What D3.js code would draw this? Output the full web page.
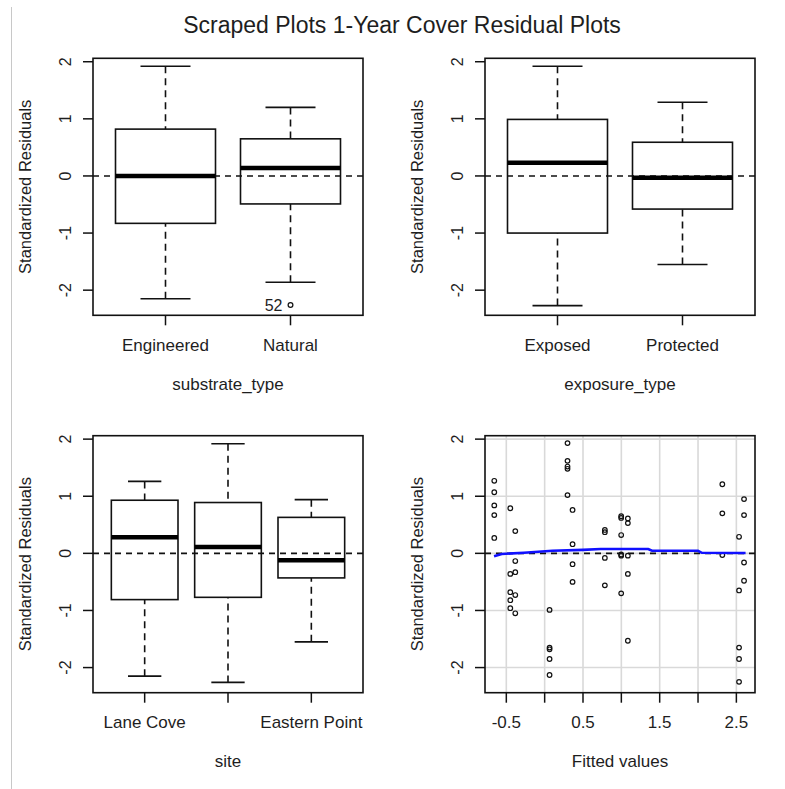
<!DOCTYPE html>
<html>
<head>
<meta charset="utf-8">
<script src="https://cdn.jsdelivr.net/npm/d3@7"></script>
<style>
  body { margin: 0; background: #fff; }
  svg text { font-family: "Liberation Sans", Arial, sans-serif; fill: #1e1e1e; }
</style>
</head>
<body>
<div id="chart"></div>
<script>
// ---- data ----
const chartTitle = "Scraped Plots 1-Year Cover Residual Plots";
const yTitle = "Standardized Residuals";
const yTicks = [-2, -1, 0, 1, 2];

// boxplot stats: [lower whisker, Q1, median, Q3, upper whisker]
const substrateCats = ["Engineered", "Natural"];
const substrateStats = [[-2.15, -0.83, 0.0, 0.82, 1.92], [-1.86, -0.49, 0.14, 0.65, 1.20]];
const substrateOutliers = [{ cat: 1, value: -2.26, label: "52" }];

const exposureCats = ["Exposed", "Protected"];
const exposureStats = [[-2.27, -1.0, 0.23, 0.99, 1.92], [-1.55, -0.58, -0.03, 0.59, 1.29]];

const siteCats = ["Lane Cove", "", "Eastern Point"]; // middle label dropped in the original
const siteStats = [[-2.15, -0.81, 0.28, 0.93, 1.26], [-2.26, -0.77, 0.11, 0.89, 1.92], [-1.55, -0.43, -0.12, 0.63, 0.94]];

// residuals vs fitted
const fittedX = [
  -0.657, -0.657, -0.657, -0.657, -0.657,
  -0.448, -0.448, -0.448, -0.448, -0.448,
  -0.383, -0.383, -0.383, -0.383, -0.383,
  0.064, 0.064, 0.064, 0.064, 0.064,
  0.298, 0.298, 0.298, 0.298, 0.298,
  0.364, 0.364, 0.364, 0.364,
  0.785, 0.785, 0.785, 0.785,
  0.998, 0.998, 0.998, 0.998, 0.998, 0.998,
  1.085, 1.085, 1.085, 1.085, 1.085,
  2.317, 2.317, 2.317,
  2.535, 2.535, 2.535, 2.535, 2.535,
  2.60, 2.60, 2.60, 2.60
];
const residY = [
  1.27, 1.07, 0.84, 0.67, 0.27,
  0.79, -0.36, -0.68, -0.82, -0.96,
  0.39, -0.135, -0.33, -0.73, -1.05,
  -0.99, -1.65, -1.68, -1.85, -2.13,
  1.93, 1.62, 1.52, 1.48, 1.02,
  0.76, 0.16, -0.19, -0.50,
  0.41, 0.37, -0.08, -0.56,
  0.65, 0.62, 0.32, -0.02, -0.04, -0.70,
  0.61, 0.53, -0.04, -0.36, -1.53,
  1.21, 0.70, -0.03,
  0.29, -0.65, -1.65, -1.85, -2.25,
  0.95, 0.67, -0.16, -0.48
];
const smoothX = [-0.66, -0.56, -0.27, 0.10, 0.50, 0.73, 1.35, 1.40, 2.00, 2.05, 2.62];
const smoothY = [-0.05, -0.01, 0.01, 0.045, 0.06, 0.075, 0.075, 0.045, 0.045, 0.01, 0.005];
const fittedTicks = [-0.5, 0, 0.5, 1, 1.5, 2, 2.5];
const fittedTickLabels = ["-0.5", "", "0.5", "", "1.5", "", "2.5"];

// ---- layout ----
const W = 785, H = 789;
const panels = [
  { left: 93, top: 58.3, xTitle: "substrate_type" },
  { left: 485, top: 58.3, xTitle: "exposure_type" },
  { left: 93, top: 435.7, xTitle: "site" },
  { left: 485, top: 435.7, xTitle: "Fitted values" }
];
const pw = 270, ph = 257;

const svg = d3.select("#chart").append("svg")
  .attr("width", W).attr("height", H);

svg.append("line")
  .attr("x1", 11.5).attr("x2", 11.5).attr("y1", 7).attr("y2", H)
  .attr("stroke", "#c8c8c8").attr("stroke-width", 1);

svg.append("text")
  .attr("x", 402).attr("y", 33)
  .attr("text-anchor", "middle")
  .style("font-size", "23px")
  .text(chartTitle);

function frame(p) {
  const g = svg.append("g");
  const y = d3.scaleLinear().domain([-2.44, 2.06]).range([p.top + ph, p.top]);

  // y ticks
  g.selectAll(".yt").data(yTicks).enter().append("line")
    .attr("x1", p.left - 10).attr("x2", p.left)
    .attr("y1", d => y(d)).attr("y2", d => y(d))
    .attr("stroke", "#111").attr("stroke-width", 1.5);
  g.selectAll(".yl").data(yTicks).enter().append("text")
    .attr("transform", d => `translate(${p.left - 28},${y(d)}) rotate(-90)`)
    .attr("text-anchor", "middle")
    .attr("dominant-baseline", "central")
    .style("font-size", "16px")
    .text(d => d);
  g.append("text")
    .attr("transform", `translate(${p.left - 68},${p.top + ph / 2}) rotate(-90)`)
    .attr("text-anchor", "middle")
    .attr("dominant-baseline", "central")
    .style("font-size", "16.5px")
    .text(yTitle);
  g.append("text")
    .attr("x", p.left + pw / 2).attr("y", p.top + ph + 69)
    .attr("text-anchor", "middle")
    .attr("dominant-baseline", "central")
    .style("font-size", "17px")
    .text(p.xTitle);
  return { g, y };
}

function border(g, p) {
  g.append("rect")
    .attr("x", p.left).attr("y", p.top).attr("width", pw).attr("height", ph)
    .attr("fill", "none").attr("stroke", "#111").attr("stroke-width", 1.6);
}

function boxPanel(p, cats, stats, outliers) {
  const { g, y } = frame(p);
  const n = cats.length;
  const pad = 0.04 * n;
  const x = d3.scaleLinear().domain([0.5 - pad, n + 0.5 + pad]).range([p.left, p.left + pw]);
  const bw = x(1.4) - x(1);
  const idx = d3.range(n);

  // reference line at zero
  g.append("line")
    .attr("x1", p.left).attr("x2", p.left + pw)
    .attr("y1", y(0)).attr("y2", y(0))
    .attr("stroke", "#111").attr("stroke-width", 1.6)
    .attr("stroke-dasharray", "6,5");

  const bx = g.selectAll(".box").data(idx).enter().append("g");
  // whiskers
  bx.append("line")
    .attr("x1", i => x(i + 1)).attr("x2", i => x(i + 1))
    .attr("y1", i => y(stats[i][0])).attr("y2", i => y(stats[i][1]))
    .attr("stroke", "#111").attr("stroke-width", 1.6).attr("stroke-dasharray", "7,5");
  bx.append("line")
    .attr("x1", i => x(i + 1)).attr("x2", i => x(i + 1))
    .attr("y1", i => y(stats[i][4])).attr("y2", i => y(stats[i][3]))
    .attr("stroke", "#111").attr("stroke-width", 1.6).attr("stroke-dasharray", "7,5");
  // caps
  [0, 4].forEach(k => {
    bx.append("line")
      .attr("x1", i => x(i + 1) - bw / 2).attr("x2", i => x(i + 1) + bw / 2)
      .attr("y1", i => y(stats[i][k])).attr("y2", i => y(stats[i][k]))
      .attr("stroke", "#111").attr("stroke-width", 1.6);
  });
  // box
  bx.append("rect")
    .attr("x", i => x(i + 1) - bw).attr("width", bw * 2)
    .attr("y", i => y(stats[i][3]))
    .attr("height", i => y(stats[i][1]) - y(stats[i][3]))
    .attr("fill", "none").attr("stroke", "#111").attr("stroke-width", 1.6);
  // median
  bx.append("line")
    .attr("x1", i => x(i + 1) - bw).attr("x2", i => x(i + 1) + bw)
    .attr("y1", i => y(stats[i][2])).attr("y2", i => y(stats[i][2]))
    .attr("stroke", "#000").attr("stroke-width", 4.5);

  (outliers || []).forEach(o => {
    g.append("circle")
      .attr("cx", x(o.cat + 1)).attr("cy", y(o.value)).attr("r", 2.4)
      .attr("fill", "none").attr("stroke", "#111").attr("stroke-width", 1.2);
    g.append("text")
      .attr("x", x(o.cat + 1) - 8).attr("y", y(o.value))
      .attr("text-anchor", "end").attr("dominant-baseline", "central")
      .style("font-size", "16px")
      .text(o.label);
  });

  // x ticks
  g.selectAll(".xt").data(idx).enter().append("line")
    .attr("x1", i => x(i + 1)).attr("x2", i => x(i + 1))
    .attr("y1", p.top + ph).attr("y2", p.top + ph + 10)
    .attr("stroke", "#111").attr("stroke-width", 1.5);
  g.selectAll(".xl").data(idx).enter().append("text")
    .attr("x", i => x(i + 1)).attr("y", p.top + ph + 30)
    .attr("text-anchor", "middle").attr("dominant-baseline", "central")
    .style("font-size", "17px")
    .text(i => cats[i]);

  border(g, p);
}

function scatterPanel(p) {
  const { g, y } = frame(p);
  const x = d3.scaleLinear().domain([-0.778, 2.743]).range([p.left, p.left + pw]);

  // grid
  g.selectAll(".gx").data(fittedTicks).enter().append("line")
    .attr("x1", d => x(d)).attr("x2", d => x(d))
    .attr("y1", p.top).attr("y2", p.top + ph)
    .attr("stroke", "#d9d9d9").attr("stroke-width", 1.6);
  g.selectAll(".gy").data(yTicks).enter().append("line")
    .attr("x1", p.left).attr("x2", p.left + pw)
    .attr("y1", d => y(d)).attr("y2", d => y(d))
    .attr("stroke", "#d9d9d9").attr("stroke-width", 1.6);

  g.append("line")
    .attr("x1", p.left).attr("x2", p.left + pw)
    .attr("y1", y(0)).attr("y2", y(0))
    .attr("stroke", "#111").attr("stroke-width", 1.6)
    .attr("stroke-dasharray", "6,5");

  g.selectAll(".pt").data(d3.range(fittedX.length)).enter().append("circle")
    .attr("cx", i => x(fittedX[i])).attr("cy", i => y(residY[i])).attr("r", 2.3)
    .attr("fill", "none").attr("stroke", "#111").attr("stroke-width", 1.2);

  const line = d3.line().x(i => x(smoothX[i])).y(i => y(smoothY[i]));
  g.append("path")
    .attr("d", line(d3.range(smoothX.length)))
    .attr("fill", "none").attr("stroke", "#1010ff").attr("stroke-width", 2.6);

  g.selectAll(".xt").data(fittedTicks).enter().append("line")
    .attr("x1", d => x(d)).attr("x2", d => x(d))
    .attr("y1", p.top + ph).attr("y2", p.top + ph + 10)
    .attr("stroke", "#111").attr("stroke-width", 1.5);
  g.selectAll(".xl").data(fittedTicks).enter().append("text")
    .attr("x", d => x(d)).attr("y", p.top + ph + 30)
    .attr("text-anchor", "middle").attr("dominant-baseline", "central")
    .style("font-size", "17px")
    .text((d, i) => fittedTickLabels[i]);

  border(g, p);
}

boxPanel(panels[0], substrateCats, substrateStats, substrateOutliers);
boxPanel(panels[1], exposureCats, exposureStats);
boxPanel(panels[2], siteCats, siteStats);
scatterPanel(panels[3]);
</script>
</body>
</html>
